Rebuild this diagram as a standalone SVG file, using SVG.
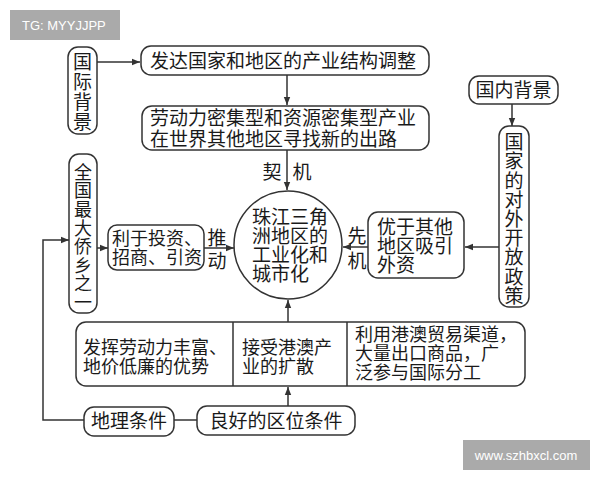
<svg xmlns="http://www.w3.org/2000/svg" width="600" height="480" viewBox="0 0 600 480">
<style>
.b{fill:#fff;stroke:#333;stroke-width:1.5}
.t{font-family:"Noto Sans CJK SC","Liberation Sans",sans-serif;font-size:18px;fill:#1a1a1a}
.l{font-size:19px}
.m{text-anchor:middle}
.v{writing-mode:vertical-rl;text-orientation:upright}
.c{fill:none;stroke:#333;stroke-width:1.5}
.w{font-family:"Liberation Sans","DejaVu Sans",sans-serif;font-size:13px;fill:#fff}
</style>
<defs>
<marker id="a" viewBox="0 0 10 10" refX="10" refY="5" markerWidth="8" markerHeight="8" markerUnits="userSpaceOnUse" orient="auto">
<path d="M0,1 L10,5 L0,9 z" fill="#333"/>
</marker>
</defs>
<rect width="600" height="480" fill="#fff"/>
<g id="wm1"><rect x="10" y="10" width="110" height="30" fill="#aaa"/><text class="w" x="22" y="30">TG: MYYJJPP</text></g>
<g id="wm2"><rect x="463" y="440" width="127" height="30" fill="#aaa"/><text class="w" x="526" y="460" text-anchor="middle">www.szhbxcl.com</text></g>

<g id="connectors">
<line class="c" x1="97" y1="62" x2="140" y2="62" marker-end="url(#a)"/>
<line class="c" x1="287" y1="75" x2="287" y2="105" marker-end="url(#a)"/>
<line class="c" x1="287" y1="150" x2="287" y2="190" marker-end="url(#a)"/>
<line class="c" x1="512" y1="104" x2="512" y2="126" marker-end="url(#a)"/>
<line class="c" x1="499" y1="247" x2="465" y2="247" marker-end="url(#a)"/>
<line class="c" x1="368" y1="247" x2="343" y2="247" marker-end="url(#a)"/>
<line class="c" x1="97" y1="248" x2="108" y2="248" marker-end="url(#a)"/>
<line class="c" x1="204" y1="248" x2="234" y2="248" marker-end="url(#a)"/>
<polyline class="c" points="84,420 43,420 43,240 69,240" marker-end="url(#a)"/>
<line class="c" x1="174" y1="420" x2="197" y2="420"/>
<line class="c" x1="288" y1="406" x2="288" y2="387" marker-end="url(#a)"/>
<line class="c" x1="288" y1="322" x2="288" y2="300" marker-end="url(#a)"/>
<text class="t l m" x="272" y="179">契</text>
<text class="t l m" x="302" y="179">机</text>
<text class="t l v" x="217" y="228" letter-spacing="4">推动</text>
<text class="t l v" x="357" y="226" letter-spacing="6">先机</text>
</g>

<g id="intl">
<rect class="b" x="68" y="47" width="29" height="87" rx="10"/>
<text class="t l v" x="82.5" y="52.5" letter-spacing="1">国际背景</text>
</g>
<g id="developed">
<rect class="b" x="141" y="46" width="288" height="29" rx="10"/>
<text class="t l" x="150" y="68">发达国家和地区的产业结构调整</text>
</g>
<g id="labor">
<rect class="b" x="142" y="106" width="287" height="44" rx="10"/>
<text class="t l"><tspan x="150" y="125">劳动力密集型和资源密集型产业</tspan><tspan x="150" y="146">在世界其他地区寻找新的出路</tspan></text>
</g>
<g id="domestic">
<rect class="b" x="469" y="76" width="89" height="28" rx="10"/>
<text class="t l m" x="513.5" y="97">国内背景</text>
</g>
<g id="policy">
<rect class="b" x="499" y="126" width="30" height="181" rx="10"/>
<text class="t l v" x="514" y="132.5" letter-spacing="0.2">国家的对外开放政策</text>
</g>
<g id="better">
<rect class="b" x="368" y="212" width="96" height="66" rx="10"/>
<text class="t l"><tspan x="377" y="234">优于其他</tspan><tspan x="377" y="253">地区吸引</tspan><tspan x="377" y="272">外资</tspan></text>
</g>
<g id="center">
<circle class="b" cx="288" cy="245" r="54"/>
<text class="t l"><tspan x="252" y="224">珠江三角</tspan><tspan x="252" y="243">洲地区的</tspan><tspan x="252" y="262">工业化和</tspan><tspan x="252" y="281">城市化</tspan></text>
</g>
<g id="qiaoxiang">
<rect class="b" x="69" y="154" width="28" height="159" rx="10"/>
<text class="t v" x="83" y="163" letter-spacing="0.6">全国最大侨乡之一</text>
</g>
<g id="invest">
<rect class="b" x="108" y="225" width="96" height="45" rx="9"/>
<text class="t"><tspan x="112" y="245">利于投资、</tspan><tspan x="112" y="264">招商、引资</tspan></text>
</g>
<g id="bottom">
<rect class="b" x="76" y="322" width="449" height="64" rx="10"/>
<line class="c" x1="233" y1="322" x2="233" y2="386"/>
<line class="c" x1="347" y1="322" x2="347" y2="386"/>
<text class="t"><tspan x="83" y="354">发挥劳动力丰富、</tspan><tspan x="83" y="373">地价低廉的优势</tspan></text>
<text class="t"><tspan x="242" y="354">接受港澳产</tspan><tspan x="242" y="373">业的扩散</tspan></text>
<text class="t"><tspan x="355" y="341">利用港澳贸易渠道，</tspan><tspan x="355" y="360">大量出口商品，广</tspan><tspan x="355" y="379">泛参与国际分工</tspan></text>
</g>
<g id="geo">
<rect class="b" x="84" y="407" width="90" height="29" rx="10"/>
<text class="t l m" x="129" y="428">地理条件</text>
</g>
<g id="location">
<rect class="b" x="197" y="406" width="158" height="29" rx="10"/>
<text class="t l m" x="276" y="428">良好的区位条件</text>
</g>
</svg>
